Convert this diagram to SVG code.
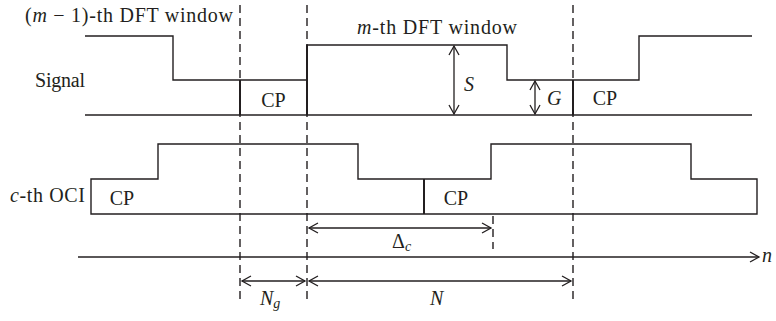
<svg xmlns="http://www.w3.org/2000/svg" width="776" height="321" viewBox="0 0 776 321">
<style>
text{font-family:"Liberation Serif","DejaVu Serif",serif;font-size:20px;fill:#231f20}
.i{font-style:italic}
.w{fill:none;stroke:#231f20;stroke-width:1.4}
.thick{fill:none;stroke:#231f20;stroke-width:2}
.dash{fill:none;stroke:#231f20;stroke-width:1.4;stroke-dasharray:8,5}
.arr{fill:none;stroke:#231f20;stroke-width:1.3;marker-start:url(#ch);marker-end:url(#ch)}
.arr1{fill:none;stroke:#231f20;stroke-width:1.3;marker-end:url(#ch)}
</style>
<defs>
<marker id="ch" markerUnits="userSpaceOnUse" markerWidth="12" markerHeight="12" refX="10" refY="6" orient="auto-start-reverse">
<path d="M1,1 L10,6 L1,11" fill="none" stroke="#231f20" stroke-width="1.3"/>
</marker>
</defs>
<rect width="776" height="321" fill="#fff"/>
<g id="labels">
<text x="25" y="22" textLength="208" lengthAdjust="spacing">(<tspan class="i">m</tspan> − 1)-th DFT window</text>
<text x="357" y="34" textLength="160" lengthAdjust="spacing"><tspan class="i">m</tspan>-th DFT window</text>
<text x="35" y="87" textLength="50" lengthAdjust="spacing">Signal</text>
<text x="10" y="202" textLength="75" lengthAdjust="spacing"><tspan class="i">c</tspan>-th OCI</text>
</g>
<g id="signal">
<path class="w" d="M85,36 H173 V80 H307 V45 H507 V80 H639 V36 H752"/>
<path class="w" d="M85,115 H752"/>
<path class="thick" d="M240,80 V115 M307,45 V115 M573,80 V115"/>
<text x="273.5" y="107" text-anchor="middle">CP</text>
<text x="605" y="105" text-anchor="middle">CP</text>
</g>
<g id="oci">
<path class="w" d="M91,214 V179 H158 V144 H358 V179 H491 V144 H691 V179 H757 V214 Z"/>
<path class="thick" d="M424,179 V214"/>
<text x="122" y="205" text-anchor="middle">CP</text>
<text x="456" y="205" text-anchor="middle">CP</text>
</g>
<g id="windows">
<path class="dash" d="M240,5 V304 M307,5 V304 M573,5 V304"/>
<path class="dash" d="M493,216 V249"/>
</g>
<g id="connectors">
<path class="arr" d="M454,46 V114"/>
<text class="i" x="464" y="91">S</text>
<path class="arr" d="M535,81 V114"/>
<text class="i" x="547" y="105">G</text>
<path class="arr" d="M309,228 H491"/>
<text x="392" y="248">Δ<tspan class="i" font-size="14" dy="3">c</tspan></text>
<path class="arr1" d="M78,257 H759"/>
<text class="i" x="762" y="262">n</text>
<path class="arr" d="M242,281 H305"/>
<path class="arr" d="M309,281 H571"/>
<text x="260" y="305"><tspan class="i">N</tspan><tspan class="i" font-size="14" dy="3">g</tspan></text>
<text class="i" x="430" y="305">N</text>
</g>
</svg>
